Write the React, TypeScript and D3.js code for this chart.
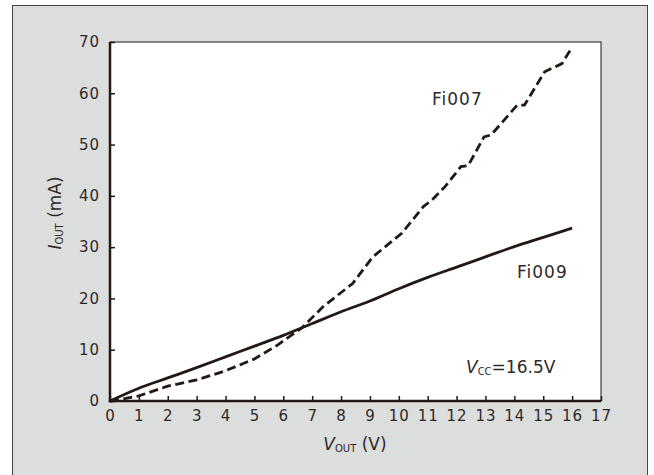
import React, { useRef, useEffect } from "react";
import * as d3 from "d3";

// Fi009 (solid) and Fi007 (dashed)
const fi009V = [0, 1, 2, 3, 4, 5, 6, 7, 8, 9, 10, 11, 12, 13, 14, 15, 16];
const fi009I = [0, 2.5, 4.5, 6.5, 8.6, 10.7, 12.8, 15.1, 17.4, 19.5, 21.9, 24.1, 26.1, 28.1, 30.1, 31.9, 33.7];

const fi007V = [0, 0.55, 1, 2, 3, 4, 5, 5.8, 6.65, 7.4, 8.4, 9.1, 10.1, 10.85, 11.15, 11.6, 12.15, 12.4, 12.95, 13.2, 14.1, 14.35, 15.05, 15.65, 16];
const fi007I = [0, 0.5, 1, 2.9, 4.1, 5.9, 8.2, 10.9, 14.3, 18.5, 22.9, 28.1, 32.7, 37.9, 39.2, 41.8, 45.7, 45.9, 51.5, 51.9, 57.7, 57.7, 64.2, 65.8, 69];

const xTicks = d3.range(0, 18);
const yTicks = [0, 10, 20, 30, 40, 50, 60, 70];

const ink = "#231815";
const font = "'DejaVu Sans', sans-serif";

const App = () => {
  const xAxisRef = useRef(null);
  const yAxisRef = useRef(null);

  const left = 110, right = 601, top = 42, bottom = 401;
  const x = d3.scaleLinear().domain([0, 17]).range([left, right]);
  const y = d3.scaleLinear().domain([0, 70]).range([bottom, top]);

  const smooth = d3.line<number>()
    .x((d) => d[0])
    .y((d) => d[1])
    .curve(d3.curveMonotoneX);
  const line = d3.line<number>()
    .x((d) => d[0])
    .y((d) => d[1]);

  const solidPts = fi009V.map((v, i) => [x(v), y(fi009I[i])]);
  const dashPts = fi007V.map((v, i) => [x(v), y(fi007I[i])]);

  useEffect(() => {
    // x axis, ticks point inward
    const gx = d3.select(xAxisRef.current);
    gx.attr("transform", "translate(0," + bottom + ")")
      .call(d3.axisBottom(x).tickValues(xTicks).tickSizeInner(-5).tickSizeOuter(0).tickPadding(9));
    gx.select(".domain").remove();
    gx.selectAll(".tick line").attr("stroke", ink).attr("stroke-width", 1.5);
    gx.selectAll(".tick text")
      .attr("fill", "#2f2a28")
      .style("font-family", font)
      .style("font-size", "15px")
      .style("letter-spacing", "1px")
      .attr("dy", "0.71em");

    // y axis
    const gy = d3.select(yAxisRef.current);
    gy.attr("transform", "translate(" + left + ",0)")
      .call(d3.axisLeft(y).tickValues(yTicks).tickSizeInner(-5).tickSizeOuter(0).tickPadding(10));
    gy.select(".domain").remove();
    gy.selectAll(".tick line").attr("stroke", ink).attr("stroke-width", 1.5);
    gy.selectAll(".tick text")
      .attr("fill", "#2f2a28")
      .style("font-family", font)
      .style("font-size", "15px")
      .style("letter-spacing", "1px");
  }, []);

  return (
    <svg width={654} height={475} style={{ position: "absolute", left: 0, top: 0 }}>
      <rect x={0} y={0} width={654} height={475} fill="#fff" />
      <rect x={12.5} y={5.5} width={635} height={480} fill="#dcdddd" stroke="#4a4444" strokeWidth={1} />
      <rect x={left} y={top} width={right - left} height={bottom - top} fill="#fff" stroke={ink} strokeWidth={1} />
      <line x1={left} x2={left} y1={top} y2={bottom + 1.2} stroke={ink} strokeWidth={2.5} />
      <line x1={left - 1.2} x2={right} y1={bottom} y2={bottom} stroke={ink} strokeWidth={2.5} />
      <g ref={xAxisRef}></g>
      <g ref={yAxisRef}></g>
      <path d={smooth(solidPts)} fill="none" stroke={ink} strokeWidth={2.8} />
      <path d={line(dashPts)} fill="none" stroke={ink} strokeWidth={2.8} strokeDasharray="9,4.5" />

      <text x={432} y={105} fill="#2f2a28" fontFamily={font} fontSize={17} letterSpacing={1}>Fi007</text>
      <text x={517} y={278} fill="#2f2a28" fontFamily={font} fontSize={17} letterSpacing={1}>Fi009</text>
      <text x={466} y={373} fill="#2f2a28" fontFamily={font} fontSize={17}>
        <tspan fontStyle="italic">V</tspan>
        <tspan fontSize={10} dy={2}>CC</tspan>
        <tspan dy={-2}>=16.5V</tspan>
      </text>

      <text x={355} y={450} textAnchor="middle" fill="#2f2a28" fontFamily={font} fontSize={17}>
        <tspan fontStyle="italic">V</tspan>
        <tspan fontSize={10} dy={2}>OUT</tspan>
        <tspan dy={-2}> (V)</tspan>
      </text>
      <text transform="translate(61,213) rotate(-90)" textAnchor="middle" fill="#2f2a28" fontFamily={font} fontSize={17}>
        <tspan fontStyle="italic">I</tspan>
        <tspan fontSize={10} dy={2}>OUT</tspan>
        <tspan dy={-2}> (mA)</tspan>
      </text>
    </svg>
  );
};

export default App;
